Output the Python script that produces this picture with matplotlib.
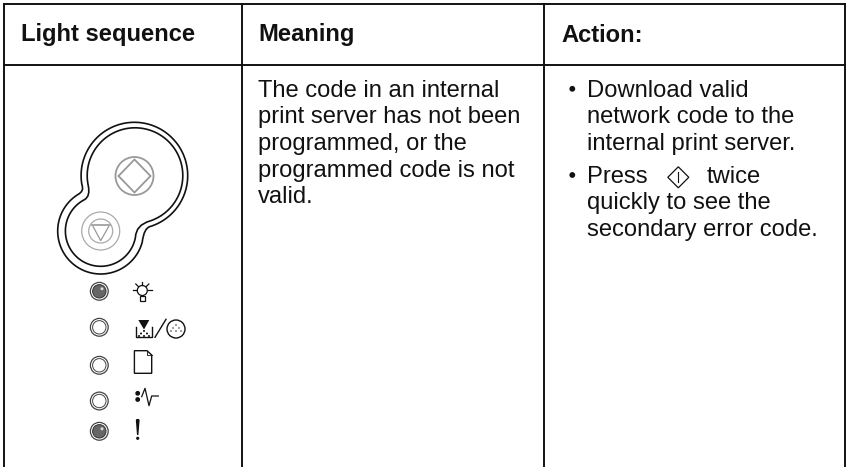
import numpy as np
import matplotlib
matplotlib.use("Agg")
import matplotlib.pyplot as plt
from matplotlib.path import Path
from matplotlib.patches import PathPatch, Circle, Polygon, Rectangle

HEADERS = ["Light sequence", "Meaning", "Action:"]
MEANING = ["The code in an internal", "print server has not been",
           "programmed, or the", "programmed code is not", "valid."]
ACTION_1 = ["Download valid", "network code to the", "internal print server."]
ACTION_2_A = "Press"
ACTION_2_B = "twice"
ACTION_2 = ["quickly to see the", "secondary error code."]
LIGHT_Y = [291.3, 327.3, 365.3, 401, 431.3]
LIGHT_ON = [True, False, False, False, True]

plt.rcParams['font.family'] = ['Liberation Sans', 'DejaVu Sans']
fig = plt.figure(figsize=(8.46, 4.67), dpi=100)
ax = fig.add_axes([0, 0, 1, 1])
ax.set_xlim(0, 846); ax.set_ylim(467, 0); ax.axis('off')

K = '#111111'
LW = 1.4
for xs, ys in [((4, 4), (4, 467)), ((4, 845), (4, 4)), ((4, 845), (64.5, 64.5)),
               ((241.7, 241.7), (4, 467)), ((544.3, 544.3), (4, 467)), ((845, 845), (4, 467))]:
    ax.plot(xs, ys, color=K, lw=LW, solid_capstyle='projecting')

FS = 17.1
ax.text(21, 41.5, HEADERS[0], fontsize=FS, fontweight='bold', color=K, va='baseline')
ax.text(258, 41.5, HEADERS[1], fontsize=FS, fontweight='bold', color=K, va='baseline')
ax.text(561, 41.5, HEADERS[2], fontsize=FS, fontweight='bold', color=K, va='baseline')

for i, s in enumerate(MEANING):
    ax.text(258, 96.7 + 26.65 * i, s, fontsize=FS, color=K, va='baseline')
for i, s in enumerate(ACTION_1):
    ax.text(587, 96.7 + 26.65 * i, s, fontsize=FS, color=K, va='baseline')
ax.text(587, 182.7, ACTION_2_A, fontsize=FS, color=K, va='baseline')
ax.text(706.5, 182.7, ACTION_2_B, fontsize=FS, color=K, va='baseline')
for i, s in enumerate(ACTION_2):
    ax.text(587, 209.4 + 26.65 * i, s, fontsize=FS, color=K, va='baseline')
for y in (88.8, 175):
    ax.add_patch(Circle((572.3, y), 2.9, fc=K, ec='none'))

# inline diamond glyph
cx, cy = 678.3, 177.3
ax.add_patch(Polygon([(cx, cy-10.5), (cx+10.5, cy), (cx, cy+10.5), (cx-10.5, cy)], closed=True, fc='none', ec=K, lw=0.9))
ax.plot([cx, cx], [cy-5, cy+5], color=K, lw=0.8)


def arc(c, r, a0, a1, n=100):
    t = np.radians(np.linspace(a0, a1, n))
    return np.c_[c[0] + r*np.cos(t), c[1] + r*np.sin(t)]


def outline(c1, r1, a10, a11, c2, r2, a20, a21, ctrl1, ctrl2):
    A = arc(c1, r1, a10, a11)
    B = arc(c2, r2, a20, a21)
    v = [tuple(p) for p in A]
    codes = [Path.MOVETO] + [Path.LINETO]*(len(A)-1)
    v += [ctrl1, tuple(B[0])]; codes += [Path.CURVE3, Path.CURVE3]
    v += [tuple(p) for p in B[1:]]; codes += [Path.LINETO]*(len(B)-1)
    v += [ctrl2, tuple(A[0])]; codes += [Path.CURVE3, Path.CURVE3]
    return Path(v, codes)

C1 = (134.4, 175.6); C2 = (100.7, 231)
ax.add_patch(PathPatch(outline(C1, 53.3, 170, 360+73, C2, 43, 15, 238, (144, 228), (84.5, 191)), fc='none', ec=K, lw=1.2))
ax.add_patch(PathPatch(outline((135, 175.6), 47.8, 168, 360+72, C2, 35.3, 10, 243, (136, 225), (90.5, 196)), fc='none', ec=K, lw=1.2))

G = '#999999'
ax.add_patch(Circle((134.5, 176), 19, fc='none', ec=G, lw=1.3))
ax.add_patch(Polygon([(134.5, 159.5), (150.5, 176), (134.5, 192.5), (118.5, 176)], closed=True, fc='none', ec=G, lw=1.3))
ax.add_patch(Circle((100.7, 231), 19, fc='none', ec='#aaaaaa', lw=0.9))
ax.add_patch(Circle((100.7, 231), 12, fc='none', ec='#aaaaaa', lw=0.9))
ax.add_patch(Polygon([(92.3, 225), (109.5, 225), (100.7, 240.7)], closed=True, fc='none', ec='#999999', lw=0.9))
ax.plot([92.3, 109.5], [225, 225], color='#aaaaaa', lw=1.4)

for y, on in zip(LIGHT_Y, LIGHT_ON):
    ax.add_patch(Circle((99.3, y), 8.9, fc='white', ec='#444444', lw=0.9))
    if on:
        ax.add_patch(Circle((99.3, y), 6.7, fc='#666666', ec='#333333', lw=0.7))
        ax.add_patch(Circle((102, y-2.5), 1.5, fc='#dddddd', ec='none'))
    else:
        ax.add_patch(Circle((99.3, y), 6.7, fc='white', ec='#444444', lw=0.7))

# bulb
bx, by = 142.3, 290.5
ax.add_patch(Circle((bx, by), 5, fc='none', ec=K, lw=0.9))
ax.add_patch(Rectangle((bx-2.5, by+5), 5, 5, fc='white', ec=K, lw=0.9))
for x0, y0, x1, y1 in [(bx-9.5, by-1, bx-6, by-1), (bx+6, by-1, bx+9.5, by-1),
                       (bx, by-9, bx, by-6), (bx-6.5, by-6.5, bx-4, by-4),
                       (bx+6.5, by-6.5, bx+4, by-4)]:
    ax.plot([x0, x1], [y0, y1], color=K, lw=0.9)

# toner / drum
ax.plot([136, 136, 152.3, 152.3], [326.7, 337.3, 337.3, 326.7], color=K, lw=1.0)
ax.add_patch(Polygon([(138.3, 320), (149.3, 320), (144, 329.5)], closed=True, fc=K, ec='none'))
for px, py in [(144, 331), (141, 333.5), (147, 333.5), (139, 336), (144, 336), (149, 336)]:
    ax.add_patch(Circle((px, py), 1.0, fc=K, ec='none'))
ax.plot([155, 166], [337.3, 319.3], color=K, lw=1.0)
ax.add_patch(Circle((176, 329), 9, fc='none', ec=K, lw=1.0))
for px, py in [(176, 325), (173, 328), (179, 328), (171, 331), (176, 331), (181, 331)]:
    ax.add_patch(Circle((px, py), 0.7, fc=K, ec='none'))

# page
ax.add_patch(Polygon([(134.4, 350.7), (147, 350.7), (151.7, 355), (151.7, 373.3), (134.4, 373.3)], closed=True, fc='none', ec=K, lw=1.0))
ax.plot([147, 147, 151.7], [350.7, 355, 355], color=K, lw=0.6)

# jam
ax.add_patch(Circle((137.7, 393.3), 2.4, fc=K, ec='none'))
ax.add_patch(Circle((137.7, 399.5), 2.4, fc=K, ec='none'))
ax.plot([141.7, 145, 149, 151.7, 158.3], [396.7, 388.3, 405.7, 396, 396], color=K, lw=0.9)

# attention
ax.add_patch(Polygon([(135.8, 420), (136.5, 419), (138.9, 419), (139.6, 420), (138.4, 435), (137, 435)], closed=True, fc=K, ec='none'))
ax.add_patch(Circle((137.7, 438.3), 1.6, fc=K, ec='none'))

fig.savefig('out.png', dpi=100)
